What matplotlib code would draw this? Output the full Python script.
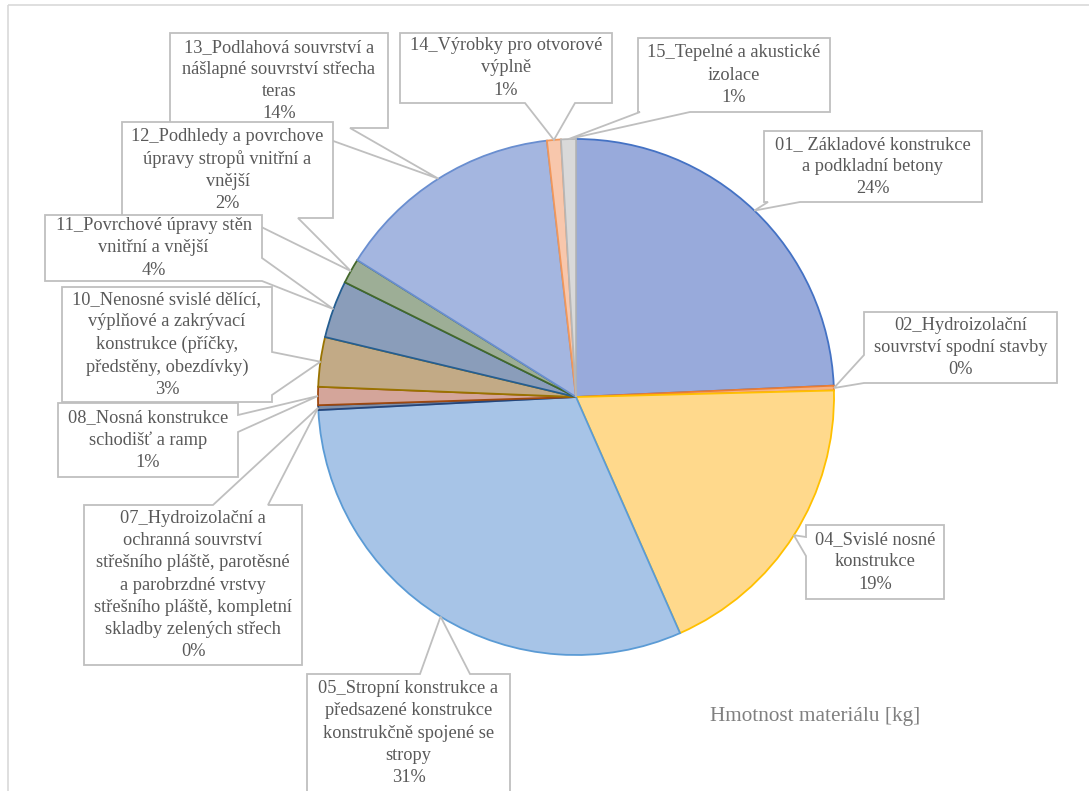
import numpy as np
import matplotlib.pyplot as plt
from matplotlib.patches import Polygon, Rectangle

plt.rcParams['font.family'] = ['Liberation Serif', 'DejaVu Serif']

# --- data: share of total material mass per construction group ---
categories = [
    "01_ Základové konstrukce\na podkladní betony",
    "02_Hydroizolační\nsouvrství spodní stavby",
    "04_Svislé nosné\nkonstrukce",
    "05_Stropní konstrukce a\npředsazené konstrukce\nkonstrukčně spojené se\nstropy",
    "07_Hydroizolační a\nochranná souvrství\nstřešního pláště, parotěsné\na parobrzdné vrstvy\n"
    "střešního pláště, kompletní\nskladby zelených střech",
    "08_Nosná konstrukce\nschodišť a ramp",
    "10_Nenosné svislé dělící,\nvýplňové a zakrývací\nkonstrukce (příčky,\npředstěny, obezdívky)",
    "11_Povrchové úpravy stěn\nvnitřní a vnější",
    "12_Podhledy a povrchove\núpravy stropů vnitřní a\nvnější",
    "13_Podlahová souvrství a\nnášlapné souvrství střecha\nteras",
    "14_Výrobky pro otvorové\nvýplně",
    "15_Tepelné a akustické\nizolace",
]
values = [24.3, 0.3, 18.8, 30.8, 0.3, 1.14, 3.1, 3.6, 1.57, 14.3, 0.87, 0.93]

fills = ['#98AADB', '#F4B183', '#FFD98C', '#A7C4E7', '#7F8FA9', '#D4A59A',
         '#C2AA86', '#8A9DBA', '#9DAE96', '#A4B6E0', '#F8C7AC', '#D9D9D9']
edges = ['#4472C4', '#ED7D31', '#FFC000', '#5B9BD5', '#264478', '#9E480E',
         '#997300', '#255E91', '#43682B', '#698ED0', '#F1975A', '#B7B7B7']

# callout boxes in pixel coords (x0, y0, x1, y1), tail side and tail base span
boxes = [(764, 131, 982, 202), (864, 312, 1057, 383), (806, 525, 944, 599),
         (307, 674, 510, 796), (84, 505, 302, 665), (58, 403, 238, 477),
         (62, 287, 272, 402), (45, 215, 262, 281), (122, 122, 333, 218),
         (170, 33, 388, 128), (400, 33, 612, 103), (638, 38, 830, 112)]
tails = [('bottom', 768, 800), ('left', 355, 383), ('left', 537, 556),
         ('top', 420, 470), ('top', 213, 268), ('right', 415, 432),
         ('right', 352, 395), ('right', 258, 281), ('bottom', 243, 298),
         ('bottom', 297, 350), ('bottom', 525, 575), ('bottom', 640, 690)]

W, H = 1089, 791
cx, cy, R = 576, 397, 258
text_col = '#595959'
line_col = '#BFBFBF'

fig = plt.figure(figsize=(W / 100, H / 100), dpi=100)
ax = fig.add_axes([0, 0, 1, 1])

# y axis is flipped below, so counterclockwise in data runs clockwise on screen
wedges, _ = ax.pie(values, startangle=-90, counterclock=True,
                   center=(cx, cy), radius=R, colors=fills,
                   wedgeprops=dict(linewidth=1.3))
for w, ec in zip(wedges, edges):
    w.set_edgecolor(ec)

ax.set_xlim(0, W)
ax.set_ylim(H, 0)
ax.axis('off')

# chart area frame
ax.add_patch(Rectangle((8, 5), W + 20, H + 20, fill=False,
                       edgecolor='#D9D9D9', linewidth=1.2, zorder=0))

total = sum(values)


def callout(box, tail, tip):
    x0, y0, x1, y1 = box
    side, b0, b1 = tail
    if side == 'top':
        pts = [(x0, y0), (b0, y0), tip, (b1, y0), (x1, y0), (x1, y1), (x0, y1)]
    elif side == 'right':
        pts = [(x0, y0), (x1, y0), (x1, b0), tip, (x1, b1), (x1, y1), (x0, y1)]
    elif side == 'bottom':
        pts = [(x0, y0), (x1, y0), (x1, y1), (b1, y1), tip, (b0, y1), (x0, y1)]
    else:
        pts = [(x0, y0), (x1, y0), (x1, y1), (x0, y1), (x0, b1), tip, (x0, b0)]
    return pts


# draw from the last slice to the first so earlier labels sit on top
for i in reversed(range(len(values))):
    w = wedges[i]
    mid = np.deg2rad((w.theta1 + w.theta2) / 2)
    tip = (cx + R * np.cos(mid), cy + R * np.sin(mid))
    z = 10 + (len(values) - i)
    ax.add_patch(Polygon(callout(boxes[i], tails[i], tip), closed=True,
                         facecolor='white', edgecolor=line_col,
                         linewidth=1.3, joinstyle='miter', zorder=z))
    x0, y0, x1, y1 = boxes[i]
    pct = values[i] / total * 100
    label = f"{categories[i]}\n{pct:.0f}%"
    if i == 3:
        ty = 733
    else:
        ty = (y0 + y1) / 2
    ax.text((x0 + x1) / 2, ty, label, ha='center', va='center',
            fontsize=13.2, color=text_col, linespacing=1.4, zorder=z + 0.5)

ax.text(815, 717, "Hmotnost materiálu [kg]", ha='center', va='center',
        fontsize=15.3, color='#808080')

fig.savefig('out.png', dpi=100)
